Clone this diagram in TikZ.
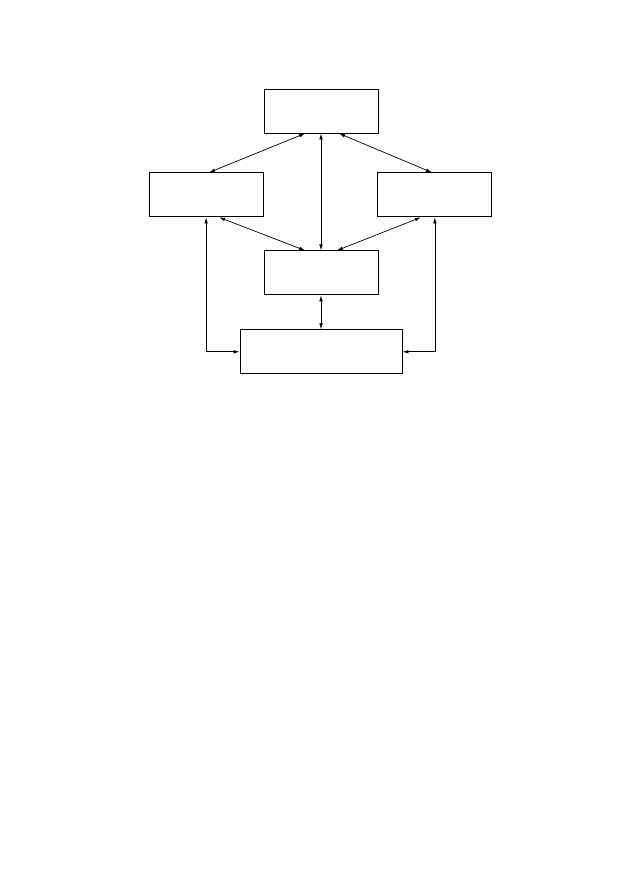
\documentclass[tikz,border=0pt]{standalone}
\usepackage{tikz}
\usetikzlibrary{positioning,arrows.meta}

\begin{document}
\begin{tikzpicture}[>={Latex[length=6pt,width=3.6pt]}, node distance=39pt,
        box/.style={draw, line width=0.9pt, minimum width=114pt, minimum height=44pt, inner sep=0pt},
        link/.style={<->, line width=0.7pt}]
        \useasboundingbox (0,0) rectangle (634pt,-896pt);
        \node[box] (T) at (321pt,-111pt) {};
        \node[box] (L) [below left=39pt and 0pt of T] {};
        \node[box] (R) [below right=39pt and -1pt of T] {};
        \node[box] (M) [below=117pt of T] {};
        \node[box, minimum width=162pt] (B) [below=34pt of M] {};

        \draw[link] ([xshift=-16pt]T.south) -- ([xshift=3pt]L.north);
        \draw[link] ([xshift=18pt]T.south) -- ([xshift=-3pt]R.north);
        \draw[link] (T.south) -- (M.north);
        \draw[link] ([xshift=13pt]L.south) -- ([xshift=-16pt]M.north);
        \draw[link] ([xshift=-14pt]R.south) -- ([xshift=16pt]M.north);
        \draw[link] (M.south) -- (B.north);
        \draw[link] (L.south) |- (B.west);
        \draw[link] (R.south) |- (B.east);
    \end{tikzpicture}
\end{document}
